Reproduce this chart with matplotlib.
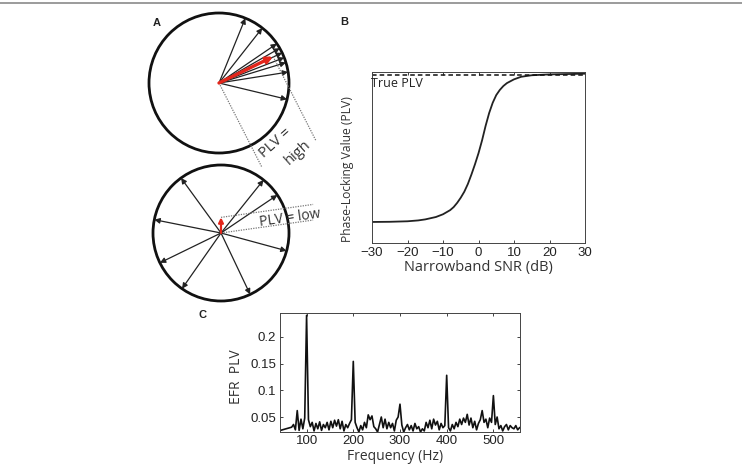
import numpy as np
import matplotlib
matplotlib.use("Agg")
import matplotlib.pyplot as plt
from matplotlib.patches import Circle, FancyArrowPatch
from matplotlib.lines import Line2D


# Panel A: phase angles (deg) of the single-trial vectors and the mean vector
high_angles = [67.9, 51.8, 34.2, 29.8, 25.6, 21.3, 17.0, 9.0, -13.5]
high_mean_angle = 26.0
high_mean_len = 0.86
low_angles = [126.0, 51.3, 34.0, 168.7, -15.2, -154.0, -125.0, -64.6]
low_mean_angle = 90.0
low_mean_len = 0.23

# Panel B: PLV vs narrowband SNR
snr_db = [-30, -25, -20, -17, -15, -12, -10, -8, -7, -6, -5, -4, -3, -2, -1,
          0, 1, 2, 3, 4, 5, 6, 7, 8, 10, 12, 15, 20, 25, 30]
plv_curve = [0.123, 0.124, 0.127, 0.132, 0.138, 0.152, 0.168, 0.192, 0.21, 0.235,
             0.265, 0.30, 0.345, 0.40, 0.46, 0.525, 0.60, 0.685, 0.76, 0.82,
             0.865, 0.895, 0.918, 0.935, 0.957, 0.972, 0.981, 0.986, 0.988, 0.99]
true_plv = 0.984

# Panel C: EFR PLV spectrum (4 Hz bins from 40 Hz)
freq_hz = np.arange(40, 557, 4)
efr_plv = [0.024, 0.025, 0.026, 0.027, 0.028, 0.029, 0.030, 0.031, 0.036, 0.026,
           0.062, 0.025, 0.046, 0.028, 0.048, 0.240, 0.045, 0.032, 0.040, 0.024,
           0.038, 0.028, 0.041, 0.025, 0.036, 0.030, 0.040, 0.026, 0.042, 0.030,
           0.044, 0.033, 0.045, 0.028, 0.042, 0.024, 0.036, 0.030, 0.038, 0.045,
           0.154, 0.040, 0.030, 0.022, 0.034, 0.026, 0.040, 0.030, 0.054, 0.045,
           0.052, 0.032, 0.028, 0.022, 0.036, 0.050, 0.030, 0.046, 0.028, 0.040,
           0.030, 0.038, 0.024, 0.044, 0.050, 0.074, 0.035, 0.022, 0.030, 0.036,
           0.026, 0.034, 0.024, 0.038, 0.028, 0.032, 0.022, 0.028, 0.024, 0.040,
           0.030, 0.044, 0.028, 0.046, 0.035, 0.042, 0.026, 0.038, 0.030, 0.034,
           0.128, 0.030, 0.024, 0.036, 0.028, 0.040, 0.032, 0.046, 0.036, 0.048,
           0.040, 0.055, 0.035, 0.048, 0.030, 0.042, 0.026, 0.038, 0.045, 0.062,
           0.040, 0.046, 0.030, 0.048, 0.040, 0.090, 0.036, 0.050, 0.028, 0.034,
           0.024, 0.032, 0.036, 0.026, 0.034, 0.030, 0.028, 0.034, 0.026, 0.030]
efr_yticks = [0.05, 0.1, 0.15, 0.2]
efr_ytick_labels = ["0.05", "0.1", "0.15", "0.2"]

W, H = 742, 468
LABEL_FONT = "Open Sans"
TICK_FONT = "Liberation Sans"


def fx(x):
    return x / W


def fy(y):
    return 1 - y / H


def draw_phase_circle(ax, cx, cy, r, angles, mean_angle, mean_len, guide_angle, guide_len,
                      red_lw=2.4, red_head=9):
    ax.add_patch(Circle((cx, cy), r, fill=False, lw=2.0, color="#111111"))
    for a in angles:
        t = np.deg2rad(a)
        tip = (cx + r * np.cos(t), cy - r * np.sin(t))
        ax.add_patch(FancyArrowPatch((cx, cy), tip, arrowstyle="-|>", mutation_scale=8,
                                     lw=0.9, color="#222222", shrinkA=0, shrinkB=0))
    t = np.deg2rad(mean_angle)
    mtip = (cx + mean_len * r * np.cos(t), cy - mean_len * r * np.sin(t))
    ax.add_patch(FancyArrowPatch((cx, cy), mtip, arrowstyle="-|>", mutation_scale=red_head,
                                 lw=red_lw, color="#e3261b", shrinkA=0, shrinkB=0, zorder=3))
    # dotted guides showing the length of the mean vector
    g = np.deg2rad(guide_angle)
    d = (guide_len * np.cos(g), -guide_len * np.sin(g))
    for sx, sy in [(cx, cy), mtip]:
        ax.plot([sx, sx + d[0]], [sy, sy + d[1]], ls=(0, (1, 1)), lw=0.9, color="#777777")


fig = plt.figure(figsize=(W / 100, H / 100), dpi=100)

# gray rule at the very top
fig.add_artist(Line2D([0, 1], [fy(3), fy(3)], transform=fig.transFigure, color="#8a8a8a", lw=1.2))

# Panel A drawn in pixel coordinates
ax_a = fig.add_axes([0, 0, 1, 1])
ax_a.set_xlim(0, W)
ax_a.set_ylim(H, 0)
ax_a.axis("off")
draw_phase_circle(ax_a, 219, 83, 70, high_angles, high_mean_angle, high_mean_len, -63, 94)
draw_phase_circle(ax_a, 221, 233, 68, low_angles, low_mean_angle, low_mean_len, 8, 93,
                  red_lw=1.6, red_head=7)
ax_a.text(275, 143, "PLV =", rotation=42, ha="center", va="center", fontsize=10.5,
          family=LABEL_FONT, color="#333333")
ax_a.text(298, 153, "high", rotation=42, ha="center", va="center", fontsize=10.5,
          family=LABEL_FONT, color="#333333")
ax_a.text(290, 218, "PLV = low", rotation=8, ha="center", va="center", fontsize=10,
          family=LABEL_FONT, color="#333333")

# Panel B
ax_b = fig.add_axes([fx(372), fy(243), fx(585) - fx(372), fy(72) - fy(243)])
ax_b.plot(snr_db, plv_curve, color="#222222", lw=1.3)
ax_b.axhline(true_plv, ls=(0, (3, 2)), color="#111111", lw=1.1)
ax_b.text(-30.3, 0.93, "True PLV", ha="left", va="center", fontsize=9, family=LABEL_FONT,
          color="#222222")
ax_b.set_xlim(-30, 30)
ax_b.set_ylim(0, 1)
ax_b.set_yticks([])
ax_b.set_xticks(range(-30, 31, 10))
ax_b.tick_params(direction="in", top=True, length=2.5, width=0.6, labelsize=9.5, pad=3,
                 colors="#222222")

# Panel C
ax_c = fig.add_axes([fx(279.5), fy(432), fx(520) - fx(279.5), fy(313.5) - fy(432)])
ax_c.plot(freq_hz, efr_plv, color="#111111", lw=1.2)
ax_c.set_xlim(42, 557)
ax_c.set_ylim(0.022, 0.2435)
ax_c.set_xticks(range(100, 501, 100))
ax_c.set_yticks(efr_yticks)
ax_c.set_yticklabels(efr_ytick_labels)
ax_c.tick_params(direction="in", top=True, right=True, length=2.5, width=0.6, labelsize=9.5,
                 pad=2.5, colors="#222222")

for ax in (ax_b, ax_c):
    for s in ax.spines.values():
        s.set_linewidth(0.7)
        s.set_color("#444444")
    for lab in ax.get_xticklabels() + ax.get_yticklabels():
        lab.set_family(TICK_FONT)

# axis labels and panel letters
fig.text(fx(347), fy(169), "Phase-Locking Value (PLV)", rotation=90, ha="center", va="center",
         fontsize=8.7, family=LABEL_FONT, color="#333333")
fig.text(fx(478), fy(268), "Narrowband SNR (dB)", ha="center", va="center",
         fontsize=10.5, family=LABEL_FONT, color="#333333")
fig.text(fx(237), fy(377), "EFR  PLV", rotation=90, ha="center", va="center",
         fontsize=10, family=LABEL_FONT, color="#333333")
fig.text(fx(395), fy(456), "Frequency (Hz)", ha="center", va="center",
         fontsize=10, family=LABEL_FONT, color="#333333")
for letter, x, y in [("A", 157, 23), ("B", 344, 22), ("C", 202, 315)]:
    fig.text(fx(x), fy(y), letter, ha="center", va="center", fontsize=8, fontweight="bold",
             family="Liberation Sans", color="#222222")

fig.savefig("out.png", dpi=100)
